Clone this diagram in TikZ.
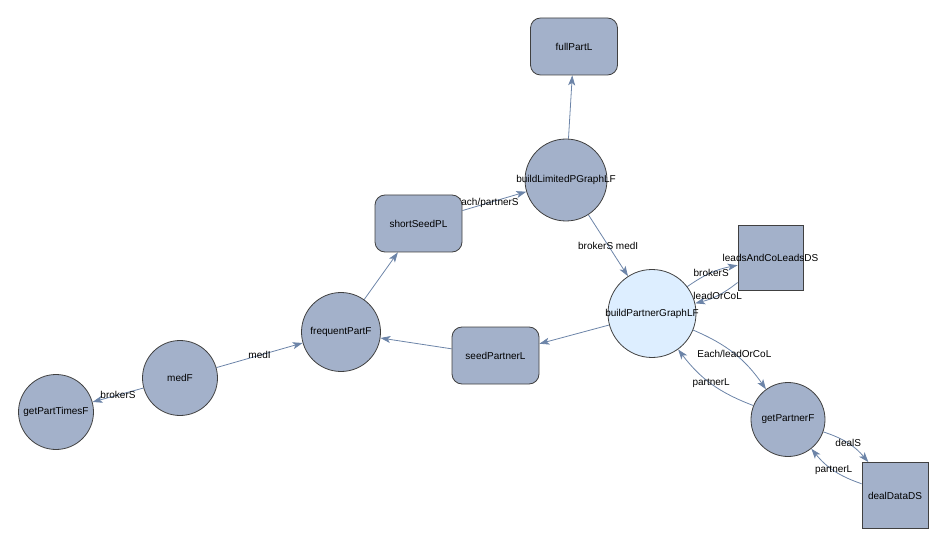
\documentclass[tikz,border=0pt]{standalone}
\usepackage{fontspec}
\setmainfont{Liberation Sans}
\usetikzlibrary{arrows.meta}
\pgfdeclarelayer{bg}
\pgfsetlayers{bg,main}
\definecolor{nodefill}{RGB}{163,177,202}
\definecolor{hifill}{RGB}{221,238,255}
\definecolor{edgecol}{RGB}{108,132,168}
\definecolor{bordercol}{RGB}{64,64,64}
\begin{document}
\begin{tikzpicture}[x=1pt,y=-1pt,font=\fontsize{10}{12}\selectfont,
  fn/.style={circle,draw=bordercol,fill=nodefill,line width=0.8pt,inner sep=0pt},
  ln/.style={rectangle,rounded corners=10pt,draw=bordercol,fill=nodefill,minimum width=87pt,minimum height=57pt,line width=0.8pt,inner sep=0pt},
  dn/.style={rectangle,draw=bordercol,fill=nodefill,minimum size=65pt,line width=0.8pt,inner sep=0pt},
  conn/.style={draw=edgecol,line width=0.8pt,-{Stealth[length=10pt,width=7pt,inset=2.5pt]}},
  lbl/.style={inner sep=1pt}]
\useasboundingbox (0,0) rectangle (948,548);
\node[ln] (fullPartL) at (574,46.5) {fullPartL};
\node[fn,minimum size=82pt] (blp) at (566,180) {\makebox[0pt]{buildLimitedPGraphLF}};
\node[ln] (shortSeedPL) at (418.5,223.5) {shortSeedPL};
\node[fn,fill=hifill,minimum size=88pt] (bpg) at (652,313.5) {\makebox[0pt]{buildPartnerGraphLF}};
\node[dn] (leads) at (770.5,257.5) {\makebox[0pt]{leadsAndCoLeadsDS}};
\node[ln] (seedPartnerL) at (495.5,355.5) {seedPartnerL};
\node[fn,minimum size=79pt] (frequentPartF) at (341,332) {\makebox[0pt]{frequentPartF}};
\node[fn,minimum size=75pt] (medF) at (180,378) {\makebox[0pt]{medF}};
\node[fn,minimum size=75pt] (getPartTimesF) at (56,412) {\makebox[0pt]{getPartTimesF}};
\node[fn,minimum size=74pt] (getPartnerF) at (788,419.5) {\makebox[0pt]{getPartnerF}};
\node[dn,minimum size=66pt] (dealDataDS) at (895,495.5) {\makebox[0pt]{dealDataDS}};
\begin{pgfonlayer}{bg}
\draw[conn] (blp) -- (fullPartL);
\draw[conn] (shortSeedPL) -- node[lbl,pos=0.38]{Each/partnerS} (blp);
\draw[conn] (blp) -- node[lbl]{brokerS medI} (bpg);
\draw[conn] (bpg) to[bend left=12] node[lbl]{brokerS} (leads);
\draw[conn] (leads) to[bend left=12] node[lbl]{leadOrCoL} (bpg);
\draw[conn] (bpg) to[bend left=16] node[lbl]{Each/leadOrCoL} (getPartnerF);
\draw[conn] (getPartnerF) to[bend left=16] node[lbl]{partnerL} (bpg);
\draw[conn] (getPartnerF) to[bend left=16] node[lbl]{dealS} (dealDataDS);
\draw[conn] (dealDataDS) to[bend left=16] node[lbl]{partnerL} (getPartnerF);
\draw[conn] (bpg) -- (seedPartnerL);
\draw[conn] (seedPartnerL) -- (frequentPartF);
\draw[conn] (frequentPartF) -- (shortSeedPL);
\draw[conn] (medF) -- node[lbl]{medI} (frequentPartF);
\draw[conn] (medF) -- node[lbl]{brokerS} (getPartTimesF);
\end{pgfonlayer}
\end{tikzpicture}
\end{document}
